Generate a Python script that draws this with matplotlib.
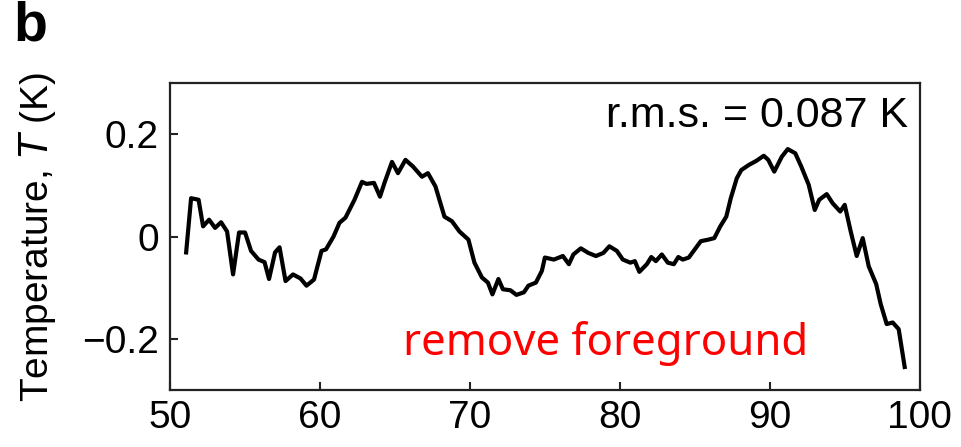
import matplotlib.pyplot as plt

plt.rcParams['font.family'] = ['Liberation Sans', 'DejaVu Sans']

# frequency (MHz) and residual temperature (K)
freq = [51.07, 51.4, 51.9, 52.2, 52.6, 53.0, 53.4, 53.8, 54.2, 54.6, 55.0, 55.4, 55.9,
        56.3, 56.6, 57.0, 57.3, 57.7, 58.2, 58.7, 59.1, 59.6, 60.1, 60.4, 60.9, 61.3,
        61.7, 62.3, 62.8, 63.1, 63.6, 64.0, 64.3, 64.8, 65.2, 65.7, 66.2, 66.8, 67.2,
        67.7, 68.3, 68.8, 69.3, 69.9, 70.3, 70.8, 71.2, 71.5, 71.9, 72.2, 72.7, 73.1,
        73.6, 73.9, 74.4, 74.8, 75.0, 75.6, 76.2, 76.6, 76.9, 77.4, 77.9, 78.4, 78.9,
        79.3, 79.8, 80.2, 80.7, 81.0, 81.3, 81.8, 82.1, 82.4, 82.8, 83.2, 83.6, 83.9,
        84.2, 84.6, 85.0, 85.4, 85.9, 86.3, 86.7, 87.1, 87.4, 87.8, 88.1, 88.6, 89.1,
        89.6, 89.9, 90.3, 90.8, 91.2, 91.7, 92.1, 92.6, 93.0, 93.3, 93.8, 94.2, 94.7,
        95.0, 95.4, 95.8, 96.2, 96.6, 97.1, 97.4, 97.8, 98.2, 98.6, 99.0]
temp = [-0.031, 0.075, 0.072, 0.020, 0.033, 0.017, 0.028, 0.010, -0.074, 0.008, 0.008,
        -0.028, -0.045, -0.050, -0.083, -0.031, -0.021, -0.087, -0.074, -0.082, -0.096,
        -0.084, -0.028, -0.025, 0.000, 0.027, 0.037, 0.072, 0.107, 0.103, 0.105, 0.078,
        0.105, 0.146, 0.124, 0.150, 0.137, 0.117, 0.124, 0.098, 0.039, 0.030, 0.010,
        -0.006, -0.051, -0.080, -0.090, -0.113, -0.083, -0.103, -0.105, -0.114, -0.109,
        -0.096, -0.090, -0.067, -0.041, -0.045, -0.038, -0.054, -0.035, -0.023, -0.032,
        -0.038, -0.032, -0.019, -0.028, -0.045, -0.051, -0.048, -0.069, -0.054, -0.040,
        -0.048, -0.035, -0.051, -0.054, -0.040, -0.045, -0.041, -0.025, -0.009, -0.006,
        -0.003, 0.020, 0.039, 0.075, 0.114, 0.130, 0.140, 0.148, 0.158, 0.150, 0.127,
        0.156, 0.171, 0.163, 0.137, 0.101, 0.052, 0.072, 0.083, 0.065, 0.049, 0.062,
        0.010, -0.038, -0.003, -0.058, -0.093, -0.132, -0.171, -0.168, -0.181, -0.255]

xticks = [50, 60, 70, 80, 90, 100]
yticks = [-0.2, 0, 0.2]
ytick_labels = ['\u22120.2', '0', '0.2']

fig = plt.figure(figsize=(9.61, 4.47), dpi=100)
ax = fig.add_axes([0.177, 0.1275, 0.78, 0.6865])

ax.plot(freq, temp, color='black', lw=3.0, solid_joinstyle='round')

ax.set_xlim(50, 100)
ax.set_ylim(-0.3, 0.3)
ax.set_xticks(xticks)
ax.set_yticks(yticks)
ax.set_yticklabels(ytick_labels)
ax.tick_params(direction='in', length=6, width=1.5, labelsize=28, color='#222222')
ax.tick_params(axis='x', pad=7)
ax.tick_params(axis='y', pad=8)
for s in ax.spines.values():
    s.set_linewidth(1.6)
    s.set_color('#222222')

ax.set_ylabel('Temperature, $\\mathit{T}$ (K)', fontsize=28)
ax.yaxis.set_label_coords(-0.15, 0.5)

ax.text(0.985, 0.857, 'r.m.s. = 0.087 K', transform=ax.transAxes,
        ha='right', va='baseline', fontsize=31)
ax.text(0.311, 0.114, 'remove foreground', transform=ax.transAxes,
        ha='left', va='baseline', fontsize=31.5, color='#ff0000',
        family=['Noto Sans', 'DejaVu Sans'])

fig.text(0.014, 0.998, 'b', fontsize=40, fontweight='heavy', ha='left', va='top')

fig.savefig('out.png', dpi=100)
